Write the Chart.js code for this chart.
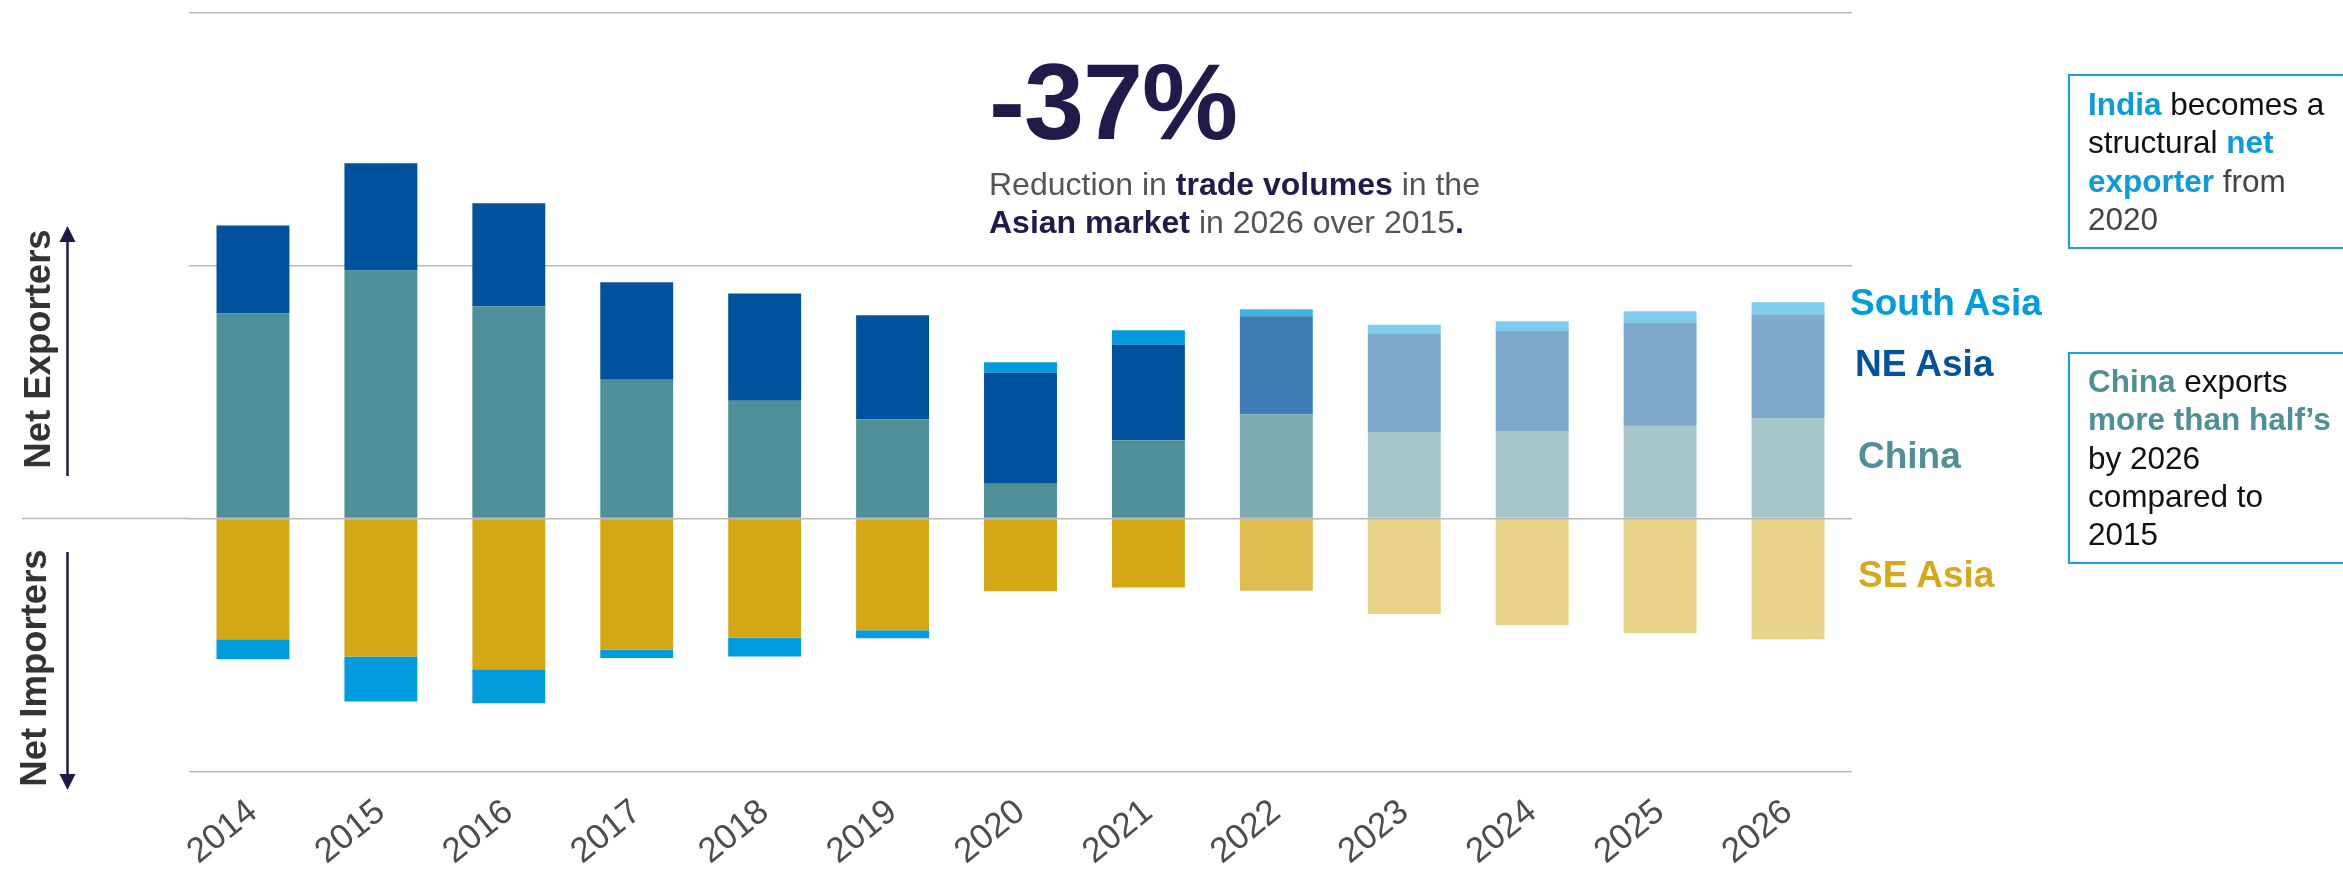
<!DOCTYPE html>
<html>
<head>
<meta charset="utf-8">
<script src="https://cdn.jsdelivr.net/npm/chart.js"></script>
<style>
  html, body { margin: 0; padding: 0; background: #fff; }
  body { width: 2343px; height: 872px; position: relative; overflow: hidden;
         font-family: "Liberation Sans", Arial, sans-serif; }
  #trade { position: absolute; left: 0; top: 0; }
  .note { position: absolute; white-space: nowrap; }
  .big { left: 989px; top: 48px; font-size: 108px; line-height: 108px; font-weight: bold; color: #211a4b; letter-spacing: -1px; }
  .sub { left: 989px; top: 165px; font-size: 32px; line-height: 38px; color: #555; }
  .sub b { color: #211a4b; }
  .region { font-size: 37px; line-height: 37px; font-weight: bold; }
  .side { font-size: 36.5px; line-height: 40px; font-weight: bold; color: #333; width: 300px; text-align: center;
          transform: rotate(-90deg); }
  .box { position: absolute; left: 2068px; width: 300px; border: 2px solid #1ba0df; box-sizing: border-box;
         padding: 9px 0 0 18px; font-size: 31.5px; line-height: 38.3px; color: #111; white-space: nowrap; }
</style>
</head>
<body>
<canvas id="trade" width="2343" height="872"></canvas>

<div class="note big">-37%</div>
<div class="note sub">Reduction in <b>trade volumes</b> in the<br><b>Asian market</b> in 2026 over 2015<b>.</b></div>

<div class="note region" style="left:1850px; top:284px; color:#009cde;">South Asia</div>
<div class="note region" style="left:1855px; top:345px; color:#00529c;">NE Asia</div>
<div class="note region" style="left:1858px; top:437px; color:#4f8f97;">China</div>
<div class="note region" style="left:1858px; top:556px; color:#d6a81e;">SE Asia</div>

<div class="note side" style="left:-112px; top:329px;">Net Exporters</div>
<div class="note side" style="left:-116px; top:648px;">Net Importers</div>

<svg width="120" height="872" style="position:absolute; left:0; top:0;">
  <g stroke="#1f1a4b" stroke-width="2.5" fill="#1f1a4b">
    <line x1="67.5" y1="476" x2="67.5" y2="238"/>
    <polygon points="67.5,226 59.5,242 75.5,242" stroke="none"/>
    <line x1="67.5" y1="552" x2="67.5" y2="778"/>
    <polygon points="67.5,790 59.5,774 75.5,774" stroke="none"/>
  </g>
</svg>

<div class="box" style="top:74px; height:175px;">
  <b style="color:#0a9cdb">India</b> becomes a<br>
  structural <b style="color:#0a9cdb">net</b><br>
  <b style="color:#0a9cdb">exporter</b> <span style="color:#444">from</span><br>
  <span style="color:#444">2020</span>
</div>
<div class="box" style="top:352px; height:212px; padding-top:8px;">
  <b style="color:#4f8f97">China</b> exports<br>
  <b style="color:#4f8f97">more than half’s</b><br>
  by 2026<br>
  compared to<br>
  2015
</div>

<script>
// net trade balance by region, positive = net exporter, negative = net importer
const years = ['2014', '2015', '2016', '2017', '2018', '2019', '2020', '2021', '2022', '2023', '2024', '2025', '2026'];
const china = [8.11, 9.81, 8.40, 5.49, 4.66, 3.93, 1.38, 3.10, 4.12, 3.42, 3.45, 3.67, 3.96];
const neAsia = [3.48, 4.24, 4.07, 3.85, 4.24, 4.11, 4.40, 3.78, 3.88, 3.90, 3.97, 4.07, 4.11];
const seAsia = [-4.77, -5.46, -5.96, -5.19, -4.71, -4.42, -2.88, -2.73, -2.86, -3.78, -4.22, -4.53, -4.77];
const southAsia = [-0.79, -1.78, -1.34, -0.33, -0.75, -0.31, 0.40, 0.57, 0.28, 0.34, 0.38, 0.46, 0.48];
// actual years, the current estimate, then the outlook
const status = ['actual', 'actual', 'actual', 'actual', 'actual', 'actual', 'actual', 'actual',
                'estimate', 'outlook', 'outlook', 'outlook', 'outlook'];

const fontFamily = '"Liberation Sans", Arial, sans-serif';
const fade = { actual: 1, estimate: 0.75, outlook: 0.5 };
const tint = rgb => status.map(s => `rgba(${rgb}, ${fade[s]})`);

const series = [
  { label: 'China', data: china, rgb: '79, 143, 151' },
  { label: 'NE Asia', data: neAsia, rgb: '0, 82, 156' },
  { label: 'SE Asia', data: seAsia, rgb: '212, 167, 23' },
  { label: 'South Asia', data: southAsia, rgb: '0, 156, 222' }
];

// zero line runs on to the left under the side labels
const zeroLine = {
  id: 'zeroLine',
  beforeDatasetsDraw(chart) {
    const { ctx, chartArea, scales } = chart;
    const y = scales.y.getPixelForValue(0);
    ctx.save();
    ctx.strokeStyle = '#b9b9b9';
    ctx.lineWidth = 1.5;
    ctx.beginPath();
    ctx.moveTo(22, y);
    ctx.lineTo(chartArea.left, y);
    ctx.stroke();
    ctx.restore();
  }
};

new Chart(document.getElementById('trade'), {
  type: 'bar',
  data: {
    labels: years,
    datasets: series.map(s => ({
      label: s.label,
      data: s.data,
      backgroundColor: tint(s.rgb),
      borderWidth: 0,
      barPercentage: 0.57,
      categoryPercentage: 1
    }))
  },
  options: {
    responsive: false,
    devicePixelRatio: 1,
    animation: false,
    layout: { padding: { top: 12.8, right: 491, left: 0, bottom: 0 } },
    plugins: { legend: { display: false }, tooltip: { enabled: false } },
    scales: {
      x: {
        stacked: true,
        grid: { display: false, drawTicks: false },
        border: { display: false },
        ticks: {
          autoSkip: false,
          minRotation: 39,
          maxRotation: 39,
          padding: 20,
          color: '#4d4d4d',
          font: { family: fontFamily, size: 35 }
        },
        afterFit(scale) { scale.height = 100.6; }
      },
      y: {
        stacked: true,
        min: -10,
        max: 20,
        ticks: { display: false, stepSize: 10 },
        grid: { color: '#b9b9b9', lineWidth: 1.5, drawTicks: false },
        border: { display: false },
        afterFit(scale) { scale.width = 189; }
      }
    }
  },
  plugins: [zeroLine]
});
</script>
</body>
</html>
